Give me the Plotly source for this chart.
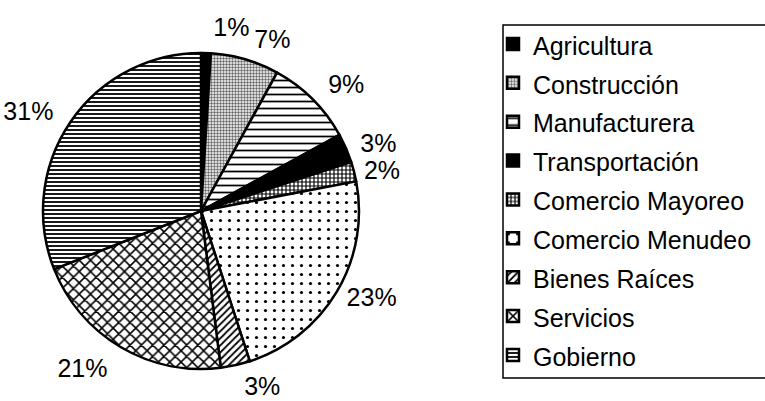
import plotly.graph_objects as go

categories = ["Agricultura", "Construcción", "Manufacturera", "Transportación",
              "Comercio Mayoreo", "Comercio Menudeo", "Bienes Raíces",
              "Servicios", "Gobierno"]
shares = [1, 7, 9, 3, 2, 23, 3, 21, 31]

# label layer of each percentage (separate layers avoid leader lines)
label_layer = [1, 2, 1, 2, 3, 3, 2, 1, 1]
layer_radius = {1: 170, 2: 166, 3: 161}

pattern_shapes = ["", ".", "-", "", "+", ".", "/", "x", "-"]
pattern_fg = ["black", "#666", "black", "black", "black", "black", "black", "black", "black"]
pattern_bg = ["black", "white", "white", "black", "white", "white", "white", "white", "white"]
pattern_size = [8, 3, 7, 8, 4, 9, 5, 8, 4]
pattern_solidity = [0.3, 0.5, 0.25, 0.3, 0.5, 0.1, 0.35, 0.35, 0.45]

W, H = 765, 401
FONT = "Liberation Sans, Arial, sans-serif"
CX, CY, R = 201, 211, 158

legend_labels = [f'<span style="font-size:25px">{c}</span>' for c in categories]


def dom(r):
    return dict(x=[(CX - r) / W, (CX + r) / W],
                y=[(H - CY - r) / H, (H - CY + r) / H])


fig = go.Figure()
fig.add_trace(go.Pie(
    labels=legend_labels,
    values=shares,
    sort=False,
    direction="clockwise",
    rotation=0,
    textposition="none",
    marker=dict(
        colors=pattern_bg,
        line=dict(color="black", width=2.5),
        pattern=dict(shape=pattern_shapes, fgcolor=pattern_fg, bgcolor=pattern_bg,
                     size=pattern_size, solidity=pattern_solidity, fillmode="replace"),
    ),
    domain=dom(R),
    hoverinfo="skip",
))

for layer, rl in layer_radius.items():
    fig.add_trace(go.Pie(
        labels=legend_labels,
        values=shares,
        sort=False,
        direction="clockwise",
        rotation=0,
        texttemplate="%{value}%",
        textposition=["outside" if l == layer else "none" for l in label_layer],
        outsidetextfont=dict(family=FONT, size=25, color="black"),
        marker=dict(colors=["rgba(0,0,0,0)"] * len(shares),
                    line=dict(width=0)),
        domain=dom(rl),
        hoverinfo="skip",
        showlegend=False,
    ))

fig.update_layout(
    width=W, height=H,
    margin=dict(l=0, r=0, t=0, b=0, autoexpand=False),
    paper_bgcolor="white",
    plot_bgcolor="white",
    font=dict(family=FONT, color="black"),
    showlegend=True,
    legend=dict(
        x=493 / W, xanchor="left",
        y=1 - 19.5 / H, yanchor="top",
        font=dict(family=FONT, size=27.6, color="black"),
        borderwidth=0,
        bgcolor="rgba(0,0,0,0)",
        traceorder="normal",
    ),
    shapes=[dict(type="rect", xref="paper", yref="paper",
                 x0=503 / W, x1=1.02, y0=1 - 378 / H, y1=1 - 25 / H,
                 line=dict(color="black", width=1.5), layer="below")],
)

fig.write_html("out.html",
               config={"displayModeBar": False},
               post_script="document.body.style.margin='0';document.body.style.overflow='hidden';")
